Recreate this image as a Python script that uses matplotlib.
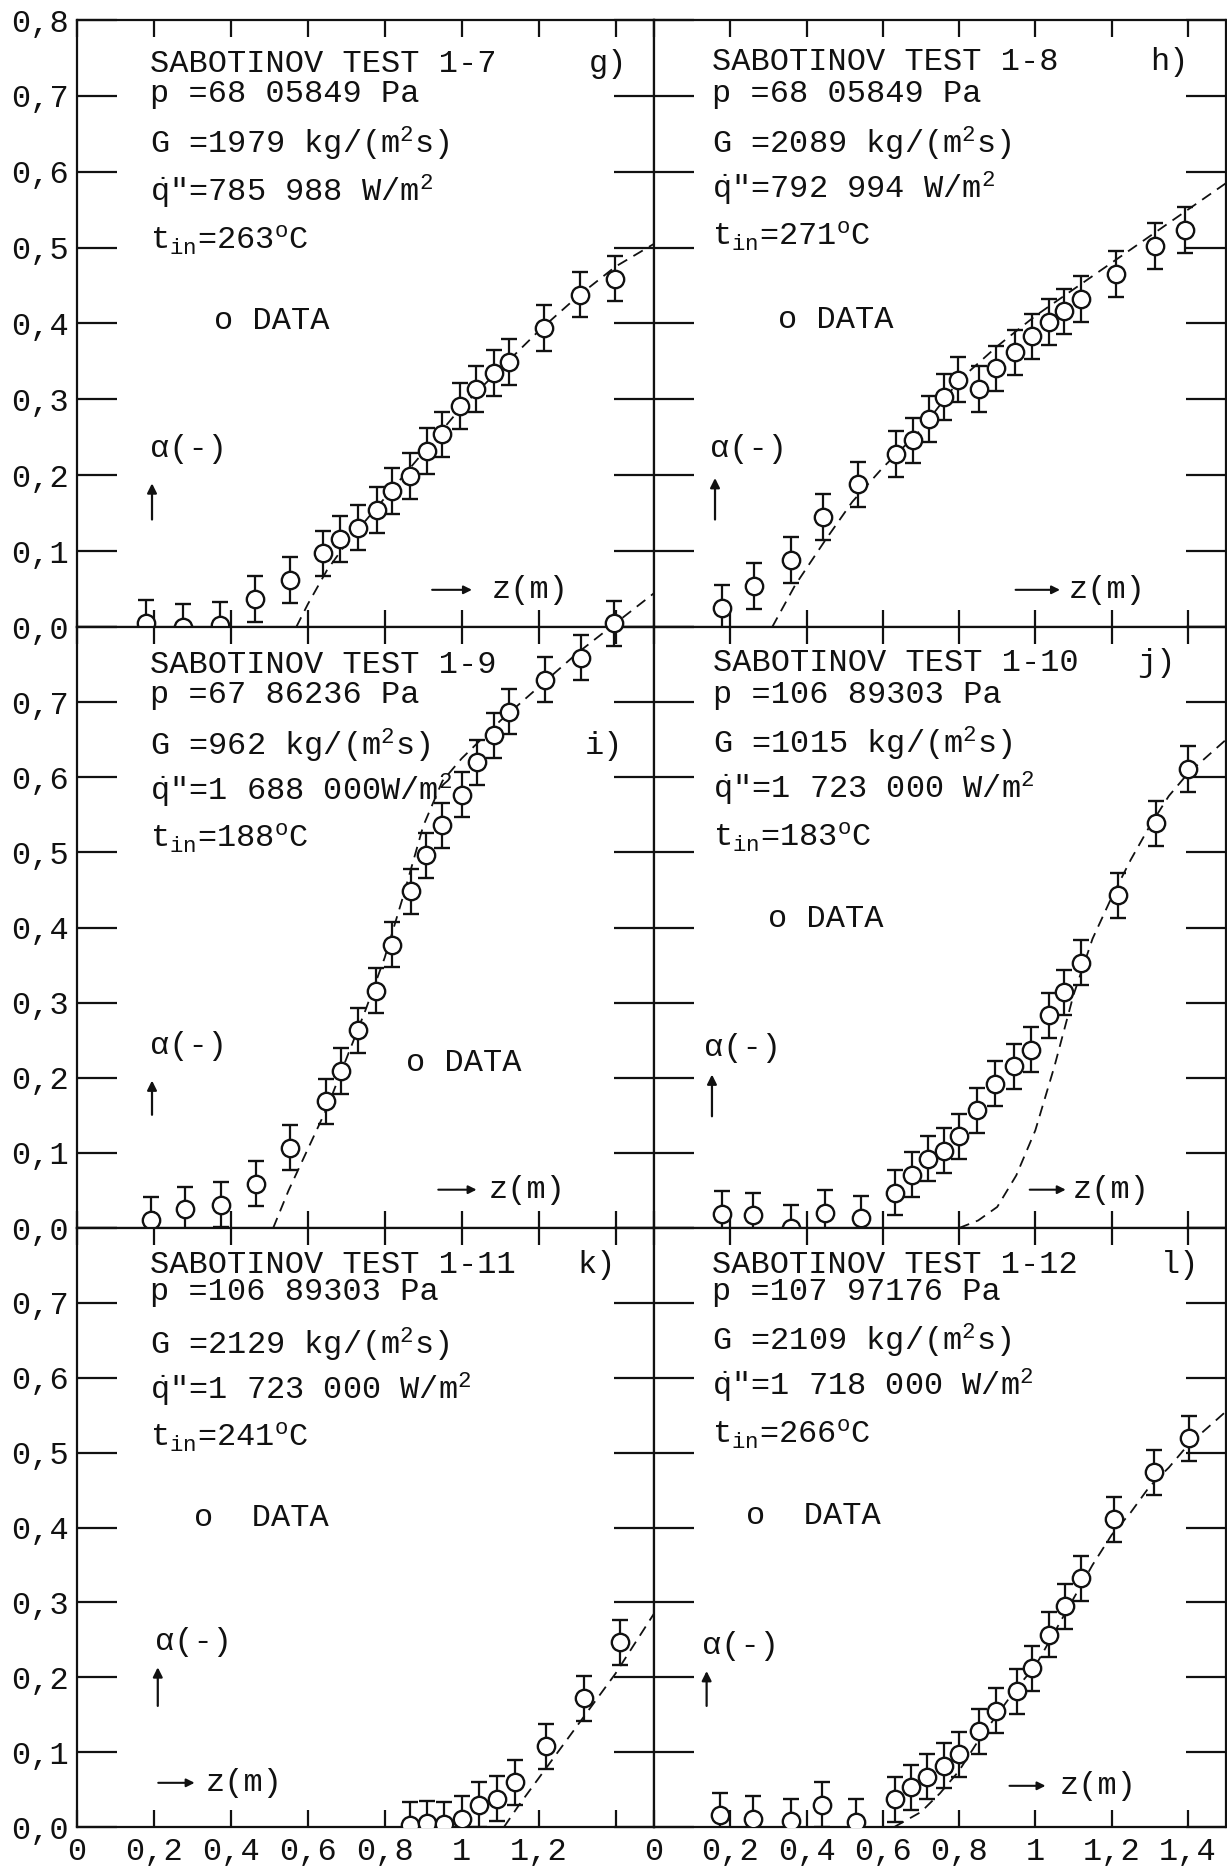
import numpy as np
import matplotlib.pyplot as plt

plt.rcParams['font.family'] = ['Liberation Mono', 'DejaVu Sans Mono']
plt.rcParams['mathtext.fontset'] = 'custom'
plt.rcParams['mathtext.rm'] = 'Liberation Mono'
plt.rcParams['mathtext.it'] = 'Liberation Mono'
plt.rcParams['mathtext.bf'] = 'Liberation Mono:bold'

INK = '#111111'
FS = 23

# void fraction data, z in m
z_17 = [0.18, 0.275, 0.373, 0.464, 0.553, 0.64, 0.684, 0.731, 0.78, 0.82,
        0.865, 0.911, 0.949, 0.996, 1.036, 1.083, 1.124, 1.214, 1.307, 1.399]
a_17 = [0.005, 0.0, 0.003, 0.037, 0.062, 0.097, 0.116, 0.131, 0.154, 0.179,
        0.199, 0.232, 0.254, 0.291, 0.314, 0.335, 0.349, 0.394, 0.438, 0.459]

z_18 = [0.178, 0.263, 0.358, 0.443, 0.534, 0.635, 0.678, 0.72, 0.76, 0.796,
        0.851, 0.897, 0.946, 0.99, 1.036, 1.076, 1.12, 1.211, 1.314, 1.392]
a_18 = [0.025, 0.054, 0.088, 0.145, 0.188, 0.228, 0.246, 0.274, 0.303, 0.326,
        0.314, 0.341, 0.362, 0.383, 0.402, 0.416, 0.432, 0.465, 0.502, 0.523]

z_19 = [0.193, 0.281, 0.374, 0.466, 0.553, 0.647, 0.687, 0.731, 0.777, 0.82,
        0.867, 0.906, 0.949, 1.002, 1.04, 1.083, 1.124, 1.216, 1.309, 1.396]
a_19 = [0.011, 0.025, 0.031, 0.059, 0.107, 0.169, 0.209, 0.263, 0.316, 0.377,
        0.448, 0.496, 0.536, 0.577, 0.62, 0.656, 0.687, 0.73, 0.759, 0.805]

z_110 = [0.178, 0.26, 0.358, 0.449, 0.544, 0.632, 0.676, 0.718, 0.76, 0.799,
         0.848, 0.894, 0.943, 0.988, 1.037, 1.076, 1.12, 1.218, 1.316, 1.4]
a_110 = [0.019, 0.017, 0.0, 0.02, 0.013, 0.047, 0.071, 0.092, 0.103, 0.122,
         0.157, 0.192, 0.215, 0.237, 0.283, 0.314, 0.353, 0.443, 0.539, 0.611]

z_111 = [0.865, 0.911, 0.955, 1.0, 1.045, 1.092, 1.138, 1.219, 1.317, 1.411]
a_111 = [0.003, 0.005, 0.004, 0.011, 0.03, 0.038, 0.06, 0.108, 0.172, 0.247]

z_112 = [0.172, 0.26, 0.358, 0.441, 0.529, 0.632, 0.674, 0.716, 0.76, 0.799,
         0.853, 0.897, 0.951, 0.99, 1.036, 1.078, 1.12, 1.206, 1.312, 1.402]
a_112 = [0.016, 0.011, 0.008, 0.03, 0.007, 0.037, 0.053, 0.067, 0.082, 0.097,
         0.128, 0.155, 0.181, 0.212, 0.257, 0.295, 0.332, 0.411, 0.474, 0.519]

err = 0.03

# calculated curves
zm_17 = [0.57, 0.6, 0.65, 0.7, 0.8, 0.9, 1.0, 1.1, 1.2, 1.3, 1.4, 1.5]
am_17 = [0.0, 0.03, 0.075, 0.11, 0.17, 0.23, 0.29, 0.34, 0.39, 0.435, 0.475, 0.505]

zm_18 = [0.31, 0.37, 0.45, 0.52, 0.6, 0.7, 0.8, 0.9, 1.0, 1.1, 1.2, 1.3, 1.4, 1.5]
am_18 = [0.0, 0.055, 0.115, 0.165, 0.21, 0.26, 0.325, 0.37, 0.41, 0.445, 0.48,
         0.515, 0.55, 0.585]

zm_19 = [0.51, 0.55, 0.6, 0.65, 0.7, 0.75, 0.8, 0.85, 0.9, 0.95, 1.0, 1.05,
         1.1, 1.2, 1.3, 1.4, 1.5]
am_19 = [0.0, 0.05, 0.105, 0.16, 0.225, 0.29, 0.36, 0.445, 0.535, 0.595, 0.625,
         0.65, 0.675, 0.72, 0.765, 0.805, 0.845]

zm_110 = [0.8, 0.85, 0.9, 0.95, 1.0, 1.05, 1.1, 1.15, 1.2, 1.25, 1.3, 1.35, 1.4, 1.5]
am_110 = [0.0, 0.01, 0.028, 0.07, 0.13, 0.215, 0.31, 0.385, 0.44, 0.49, 0.535,
          0.575, 0.605, 0.65]

zm_111 = [1.11, 1.15, 1.2, 1.25, 1.3, 1.35, 1.4, 1.45, 1.5]
am_111 = [0.0, 0.03, 0.065, 0.1, 0.135, 0.17, 0.205, 0.245, 0.285]

zm_112 = [0.63, 0.7, 0.75, 0.8, 0.85, 0.9, 0.95, 1.0, 1.05, 1.1, 1.15, 1.2,
          1.25, 1.3, 1.35, 1.4, 1.5]
am_112 = [0.0, 0.02, 0.045, 0.075, 0.115, 0.15, 0.185, 0.215, 0.26, 0.305,
          0.35, 0.39, 0.42, 0.455, 0.48, 0.51, 0.555]

# test conditions
tests = ['1-7', '1-8', '1-9', '1-10', '1-11', '1-12']
tags = ['g)', 'h)', 'i)', 'j)', 'k)', 'l)']
p_txt = ['68 05849', '68 05849', '67 86236', '106 89303', '106 89303', '107 97176']
G_txt = ['1979', '2089', '962', '1015', '2129', '2109']
q_txt = ['785 988 ', '792 994 ', '1 688 000', '1 723 000 ', '1 723 000 ', '1 718 000 ']
tin_txt = ['263', '271', '188', '183', '241', '266']

y_ticks = [0.0, 0.1, 0.2, 0.3, 0.4, 0.5, 0.6, 0.7, 0.8]
x_ticks = [0.0, 0.2, 0.4, 0.6, 0.8, 1.0, 1.2, 1.4]
x_labels_left = ['0', '0,2', '0,4', '0,6', '0,8', '1', '1,2', '']
x_labels_right = ['0', '0,2', '0,4', '0,6', '0,8', '1', '1,2', '1,4']

# text placement inside each panel (data coordinates)
layout = [
    dict(tx=0.19, ty=[0.742, 0.703, 0.637, 0.574, 0.51], tag=(1.33, 0.742),
         data=(0.355, 0.403, 'o DATA'), alpha=(0.19, 0.235, 0.195, 0.138, 0.193),
         zarr=(0.916, 1.034, 0.049), ztx=1.077),
    dict(tx=0.153, ty=[0.745, 0.703, 0.637, 0.577, 0.515], tag=(1.30, 0.745),
         data=(0.325, 0.405, 'o DATA'), alpha=(0.146, 0.235, 0.16, 0.138, 0.2),
         zarr=(0.941, 1.072, 0.049), ztx=1.087),
    dict(tx=0.19, ty=[0.749, 0.709, 0.642, 0.582, 0.518], tag=(1.32, 0.642),
         data=(0.855, 0.22, 'o DATA'), alpha=(0.19, 0.242, 0.195, 0.147, 0.2),
         zarr=(0.932, 1.046, 0.051), ztx=1.071),
    dict(tx=0.156, ty=[0.752, 0.709, 0.644, 0.585, 0.52], tag=(1.268, 0.752),
         data=(0.30, 0.411, 'o DATA'), alpha=(0.131, 0.239, 0.152, 0.145, 0.208),
         zarr=(0.978, 1.087, 0.051), ztx=1.097),
    dict(tx=0.19, ty=[0.75, 0.714, 0.644, 0.584, 0.52], tag=(1.30, 0.75),
         data=(0.303, 0.413, 'o  DATA'), alpha=(0.204, 0.247, 0.21, 0.158, 0.217),
         zarr=(0.204, 0.313, 0.059), ztx=0.334),
    dict(tx=0.153, ty=[0.75, 0.714, 0.649, 0.589, 0.524], tag=(1.33, 0.75),
         data=(0.24, 0.416, 'o  DATA'), alpha=(0.125, 0.242, 0.138, 0.158, 0.212),
         zarr=(0.925, 1.034, 0.055), ztx=1.065),
]

meas = [(z_17, a_17), (z_18, a_18), (z_19, a_19), (z_110, a_110), (z_111, a_111), (z_112, a_112)]
model = [(zm_17, am_17), (zm_18, am_18), (zm_19, am_19), (zm_110, am_110), (zm_111, am_111), (zm_112, am_112)]

fig = plt.figure(figsize=(12.27, 18.69), dpi=100)

W, H = 1227.0, 1869.0
cols = [(77, 654), (654, 1226)]
rows = [(20, 627), (627, 1228), (1228, 1827)]

for k in range(6):
    r, c = divmod(k, 2)
    x0, x1 = cols[c]
    y0, y1 = rows[r]
    ax = fig.add_axes([x0 / W, 1 - y1 / H, (x1 - x0) / W, (y1 - y0) / H])
    ax.set_xlim(0, 1.5)
    ax.set_ylim(0, 0.8)
    for s in ax.spines.values():
        s.set_linewidth(1.6)
        s.set_color(INK)

    ax.set_yticks(y_ticks)
    ax.set_xticks(x_ticks)
    ax.tick_params(axis='y', direction='in', length=29, width=1.6, left=True, right=True,
                   pad=6, labelsize=FS, colors=INK)
    ax.tick_params(axis='x', direction='in', length=12, width=1.6, top=True, bottom=True,
                   pad=7, labelsize=FS, colors=INK)
    if c == 0:
        ylab = ['%.1f' % v for v in y_ticks]
        ylab = [s.replace('.', ',') for s in ylab]
        if r > 0:
            ylab[-1] = ''
        ax.set_yticklabels(ylab)
    else:
        ax.set_yticklabels([])
    if r == 2:
        ax.set_xticklabels(x_labels_left if c == 0 else x_labels_right)
    else:
        ax.set_xticklabels([])

    # test 1-9 runs past the top of its frame
    clip = (k != 2)

    zm, am = model[k]
    ax.plot(zm, am, color=INK, lw=1.3, dashes=(6, 4), clip_on=clip)

    z, a = meas[k]
    eb = ax.errorbar(z, a, yerr=err, fmt='o', ms=12.5, mfc='white', mec=INK, mew=1.7,
                     ecolor=INK, elinewidth=1.6, capsize=6, capthick=2.2, zorder=3)
    for art in eb.lines[0:1] + tuple(eb.lines[1]) + tuple(eb.lines[2]):
        art.set_clip_on(clip)

    L = layout[k]
    lines = ['SABOTINOV TEST ' + tests[k],
             'p =' + p_txt[k] + ' Pa',
             'G =' + G_txt[k] + ' kg/(m$^{2}$s)',
             '$\\dot{q}$"=' + q_txt[k] + 'W/m$^{2}$',
             't$_{\\mathrm{in}}$=' + tin_txt[k] + '$^{\\mathrm{o}}$C']
    for s, yy in zip(lines, L['ty']):
        ax.text(L['tx'], yy, s, fontsize=FS, color=INK, ha='left', va='center')
    ax.text(L['tag'][0], L['tag'][1], tags[k], fontsize=FS, color=INK, ha='left', va='center')
    dx, dy, dtxt = L['data']
    ax.text(dx, dy, dtxt, fontsize=FS, color=INK, ha='left', va='center')

    # alpha label with upward arrow
    axx, ayy, arx, ar0, ar1 = L['alpha']
    ax.text(axx, ayy, '\u03b1(-)', fontsize=FS, color=INK, ha='left', va='center')
    ax.annotate('', xy=(arx, ar1), xytext=(arx, ar0),
                arrowprops=dict(arrowstyle='-|>', lw=1.6, color=INK, mutation_scale=14))

    # z direction arrow
    zx0, zx1, zy = L['zarr']
    ax.annotate('', xy=(zx1, zy), xytext=(zx0, zy),
                arrowprops=dict(arrowstyle='-|>', lw=1.5, color=INK, mutation_scale=12))
    ax.text(L['ztx'], zy, 'z(m)', fontsize=FS, color=INK, ha='left', va='center')

fig.savefig('out.png', dpi=100, facecolor='white')
